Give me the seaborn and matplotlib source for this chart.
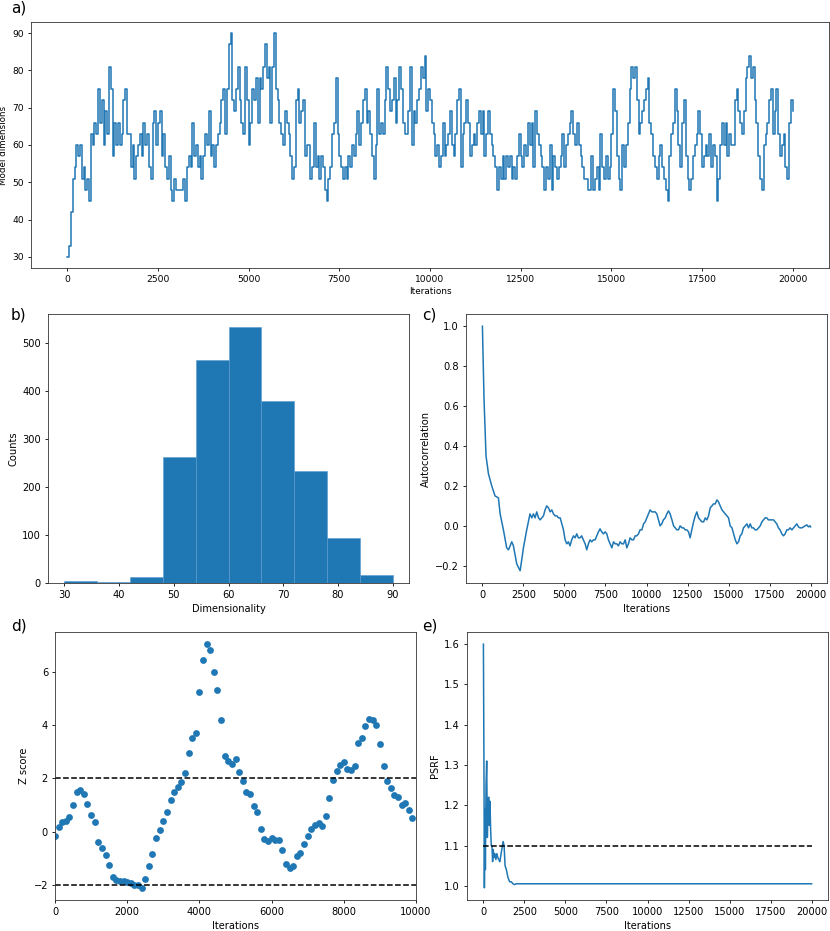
import numpy as np
import matplotlib
matplotlib.use("Agg")
import matplotlib.pyplot as plt
import seaborn as sns

# a) trace of model dimension, one value every 50 iterations
trace_step = 50
trace_dims = [
    30, 33, 42, 51, 54, 60, 57, 60, 51, 54, 48, 51, 45, 63, 60, 66, 63, 75, 66, 72,
    60, 69, 63, 81, 75, 57, 66, 60, 66, 60, 63, 72, 75, 63,
    63, 54, 60, 51, 57, 60, 63, 57, 66, 60, 63, 54, 51, 66, 69, 60, 66, 69, 57, 63,
    54, 51, 57, 48, 45, 51, 48, 48, 48, 48, 51, 45,
    54, 57, 54, 66, 57, 60, 54, 57, 51, 57, 63, 60, 69, 57, 60, 54, 60, 63, 66, 72,
    75, 63, 75, 87, 90, 72, 69, 75, 81, 72, 66, 63, 81, 72, 60, 66, 75, 72, 78, 66,
    78, 75, 81, 87, 78, 81, 66, 81, 90, 75, 72, 66, 63, 60, 69, 66, 63, 57, 51, 54,
    72, 75, 66, 69, 72, 57, 60,
    60, 51, 54, 66, 54, 57, 51, 57, 54, 48, 45, 51, 54, 63, 66, 78, 63, 57, 54, 51,
    54, 51, 57, 54, 60, 57, 63, 69, 60, 66, 72, 75, 66, 69, 63, 57, 51, 60, 75, 63,
    66, 63, 72, 81, 75, 69, 72, 78, 66, 72, 81, 75, 66, 63, 63, 69, 81, 60, 69, 66,
    72, 75, 81, 78, 84, 69, 75, 72,
    66, 63, 57, 60, 54, 57, 66, 57, 60, 63, 69, 60, 57, 63, 72, 75, 54, 63, 66, 72,
    66, 57, 60, 63, 60, 66, 69, 63, 69, 57, 63, 69, 63, 60, 57, 54, 48, 54, 51, 57,
    51, 57, 54, 57, 51, 54, 51, 57, 63, 57, 54, 60, 57, 66, 60, 66, 54, 69, 63, 60,
    57, 54, 48, 54, 51, 60,
    48, 57, 54, 51, 54, 57, 63, 54, 60, 63, 66, 69, 63, 60, 66, 60, 57, 54, 51, 51,
    48, 48, 57, 48, 51, 54, 48, 63, 54, 51, 57, 51, 54, 63, 75, 69, 57, 51, 48, 60,
    54, 60, 66, 75, 81, 78, 81, 72, 63, 66, 69, 72, 75, 78, 66, 63, 57, 54, 51, 57,
    60, 54, 51, 48, 45, 57, 63, 66,
    75, 69, 60, 54, 66, 72, 57, 51, 48, 51, 57, 60, 63, 69, 63, 54, 57, 60, 57, 63,
    54, 60, 57, 45, 51, 60, 66, 60, 66, 57, 63, 60, 60, 72, 75, 69, 66, 63, 69, 78,
    81, 84, 78, 81, 72, 66, 57, 51, 48, 60, 63, 66, 72, 75, 63, 69, 75, 63, 57, 60,
    63, 54, 51, 66, 72, 69,
]

# b) histogram of dimensionality
hist_edges = [30, 36, 42, 48, 54, 60, 66, 72, 78, 84, 90]
hist_counts = [4, 2, 13, 262, 464, 533, 378, 234, 94, 16]

# c) autocorrelation against lag
acf_lags = [0, 100, 220, 370, 570, 770, 975, 1080, 1280, 1480, 1590, 1690, 1790, 1890,
            2090, 2300, 2500, 2700, 2900, 3010, 3110, 3210, 3310, 3420, 3520, 3620,
            3720, 3820, 3920, 4030, 4130, 4230, 4330, 4440, 4540, 4640, 4740, 4840,
            4940, 5040, 5140, 5240, 5340, 5440, 5550, 5650, 5750, 5850, 5950, 6050,
            6150, 6260, 6360, 6460, 6560, 6660, 6770, 6870, 6970, 7070, 7170, 7270,
            7380, 7480, 7580, 7680, 7780, 7890, 7990, 8090, 8190, 8290, 8390, 8500,
            8600, 8700, 8800, 8900, 9000, 9110, 9210, 9310, 9410, 9510, 9610, 9720,
            9820, 9920, 10020, 10120, 10220, 10330, 10430, 10530, 10630, 10730, 10830,
            10930, 11030, 11140, 11240, 11340, 11440, 11550, 11650, 11750, 11850,
            11950, 12050, 12160, 12260, 12360, 12460, 12560, 12660, 12760, 12870,
            12970, 13070, 13170, 13270, 13380, 13480, 13580, 13680, 13780, 13880,
            13990, 14080, 14190, 14290, 14390, 14490, 14600, 14700, 14800, 14900,
            15000, 15100, 15210, 15310, 15410, 15510, 15610, 15710, 15810, 15910,
            16020, 16120, 16220, 16320, 16420, 16520, 16620, 16720, 16830, 16930,
            17030, 17130, 17230, 17330, 17430, 17530, 17640, 17740, 17840, 17940,
            18040, 18140, 18250, 18350, 18450, 18550, 18650, 18750, 18860, 18960,
            19060, 19160, 19260, 19360, 19470, 19570, 19670, 19770, 19870, 19970, 20000]
acf_vals = [1.0, 0.63, 0.35, 0.26, 0.20, 0.15, 0.14, 0.06, -0.02, -0.11, -0.12, -0.10,
            -0.08, -0.10, -0.19, -0.225, -0.11, -0.02, 0.06, 0.04, 0.06, 0.04, 0.07,
            0.04, 0.03, 0.04, 0.05, 0.08, 0.10, 0.09, 0.07, 0.08, 0.06, 0.05, 0.05,
            0.04, 0.04, 0.01, -0.02, -0.07, -0.09, -0.08, -0.10, -0.07, -0.05, -0.06,
            -0.04, -0.06, -0.06, -0.05, -0.07, -0.09, -0.12, -0.09, -0.07, -0.08,
            -0.07, -0.07, -0.05, -0.03, -0.015, -0.03, -0.04, -0.03, -0.04, -0.07,
            -0.09, -0.11, -0.08, -0.09, -0.09, -0.10, -0.08, -0.09, -0.09, -0.07,
            -0.11, -0.09, -0.06, -0.07, -0.07, -0.05, -0.05, -0.04, -0.02, -0.02,
            0.01, 0.02, 0.04, 0.06, 0.08, 0.07, 0.07, 0.07, 0.06, 0.03, 0.00, 0.01,
            0.03, 0.04, 0.06, 0.075, 0.06, 0.03, 0.00, -0.01, -0.02, -0.02, 0.00,
            -0.01, -0.01, -0.02, -0.02, -0.03, -0.06, -0.02, 0.02, 0.05, 0.07, 0.04,
            0.03, 0.02, 0.02, 0.04, 0.03, 0.05, 0.09, 0.10, 0.11, 0.11, 0.13, 0.12,
            0.10, 0.08, 0.07, 0.06, 0.05, 0.04, 0.00, -0.01, -0.04, -0.07, -0.09,
            -0.08, -0.05, -0.04, -0.01, 0.00, 0.01, -0.01, 0.01, -0.01, -0.01, -0.02,
            -0.02, -0.01, 0.00, 0.02, 0.03, 0.04, 0.04, 0.03, 0.03, 0.03, 0.03, 0.02,
            0.01, -0.01, -0.02, -0.04, -0.05, -0.04, -0.02, -0.02, -0.01, -0.02,
            -0.01, 0.00, 0.01, -0.005, -0.01, -0.01, -0.005, 0.0, 0.005, -0.005, 0.0,
            -0.005]

# d) Geweke z scores, one every 100 iterations
z_step = 100
z_scores = [
    -0.18, 0.18, 0.36, 0.41, 0.54, 1.0, 1.5, 1.58, 1.42, 1.04,
    0.64, 0.35, -0.39, -0.63, -0.89, -1.24, -1.7, -1.83, -1.86, -1.85,
    -1.9, -1.95, -1.99, -1.99, -2.11, -1.78, -1.28, -0.86, -0.23, 0.06,
    0.39, 0.74, 1.18, 1.49, 1.68, 1.85, 2.21, 2.95, 3.51, 3.7,
    5.23, 6.45, 7.04, 6.81, 5.98, 5.31, 4.18, 2.83, 2.64, 2.55,
    2.74, 2.25, 1.91, 1.5, 1.41, 0.95, 0.75, 0.1, -0.29, -0.36,
    -0.25, -0.3, -0.31, -0.7, -1.2, -1.36, -1.29, -0.93, -0.8, -0.46,
    -0.16, 0.08, 0.24, 0.33, 0.2, 0.58, 1.26, 1.93, 2.28, 2.51,
    2.63, 2.36, 2.3, 2.48, 3.34, 3.51, 3.98, 4.24, 4.2, 3.99,
    3.28, 2.45, 1.89, 1.64, 1.38, 1.3, 0.99, 1.08, 0.81, 0.51,
]
z_bounds = [-2, 2]

# e) potential scale reduction factor
psrf_iters = [0, 30, 60, 90, 120, 160, 200, 240, 280, 320, 360, 400, 440, 480, 520,
              560, 600, 640, 700, 760, 820, 880, 940, 1000, 1060, 1120, 1200, 1260,
              1320, 1400, 1500, 1600, 1700, 1800, 1900, 2000, 20000]
psrf_vals = [1.6, 1.33, 0.995, 1.19, 1.04, 1.25, 1.31, 1.12, 1.2, 1.22, 1.15, 1.21,
             1.14, 1.1, 1.1, 1.06, 1.09, 1.07, 1.08, 1.065, 1.08, 1.07, 1.065, 1.06,
             1.075, 1.09, 1.11, 1.1, 1.05, 1.04, 1.02, 1.01, 1.01, 1.005, 1.003,
             1.005, 1.005]
psrf_cut = 1.1

blue = "#1f77b4"
plt.rcParams.update({
    "font.family": "DejaVu Sans",
    "font.size": 7.1,
    "axes.linewidth": 0.6,
    "axes.edgecolor": "#333333",
    "xtick.major.size": 2.5,
    "ytick.major.size": 2.5,
    "xtick.major.width": 0.6,
    "ytick.major.width": 0.6,
    "xtick.major.pad": 2.5,
    "ytick.major.pad": 2.5,
    "axes.labelpad": 3,
})

W, H = 830, 931
fig = plt.figure(figsize=(W / 100, H / 100), dpi=100)


def box(l, t, r, b):
    return [l / W, 1 - b / H, (r - l) / W, (b - t) / H]


# a)
ax = fig.add_axes(box(31, 22, 829, 268))
iters = np.arange(len(trace_dims)) * trace_step
sns.lineplot(x=iters, y=trace_dims, ax=ax, color=blue, lw=1.1,
             estimator=None, sort=False, drawstyle="steps-post")
ax.set_xticks(np.arange(0, 20001, 2500))
ax.set_xlabel("Iterations", fontsize=6.4, labelpad=2)
ax.set_ylabel("Model dimensions", fontsize=6.3, labelpad=3)
ax.tick_params(labelsize=6.6)

# b)
ax = fig.add_axes(box(48, 314, 409, 583))
centers = [(hist_edges[i] + hist_edges[i + 1]) / 2 for i in range(len(hist_counts))]
sns.histplot(x=centers, weights=hist_counts, bins=hist_edges, ax=ax,
             color=blue, alpha=1, edgecolor="#5a9bd0", linewidth=0.4)
ax.set_xlim(27, 93)
ax.set_xlabel("Dimensionality")
ax.set_ylabel("Counts")

# c)
ax = fig.add_axes(box(466, 314, 827, 583))
sns.lineplot(x=acf_lags, y=acf_vals, ax=ax, color=blue, lw=1.1,
             estimator=None, sort=False)
ax.set_xticks(np.arange(0, 20001, 2500))
ax.set_yticks(np.arange(-0.2, 1.01, 0.2))
ax.set_xlabel("Iterations")
ax.set_ylabel("Autocorrelation")

# d)
ax = fig.add_axes(box(55, 632, 416, 900))
z_iters = np.arange(len(z_scores)) * z_step
sns.scatterplot(x=z_iters, y=z_scores, ax=ax, color=blue, s=24, linewidth=0)
for zb in z_bounds:
    ax.axhline(zb, color="k", ls="--", lw=1.1)
ax.set_xlim(0, 10000)
ax.set_ylim(-2.57, 7.5)
ax.set_xticks(np.arange(0, 10001, 2000))
ax.set_yticks([-2, 0, 2, 4, 6])
ax.set_xlabel("Iterations")
ax.set_ylabel("Z score")

# e)
ax = fig.add_axes(box(467, 632, 828, 900))
sns.lineplot(x=psrf_iters, y=psrf_vals, ax=ax, color=blue, lw=1.1,
             estimator=None, sort=False)
ax.hlines(psrf_cut, psrf_iters[0], psrf_iters[-1], colors="k", linestyles="--", lw=1.1)
ax.set_xticks(np.arange(0, 20001, 2500))
ax.set_xlabel("Iterations")
ax.set_ylabel("PSRF")

for lab, x, y in [("a)", 11, 12.5), ("b)", 11, 319), ("c)", 422, 319),
                  ("d)", 11, 630.5), ("e)", 422, 630.5)]:
    fig.text(x / W, 1 - y / H, lab, fontsize=11, va="baseline", ha="left")

fig.savefig("out.png", dpi=100)
